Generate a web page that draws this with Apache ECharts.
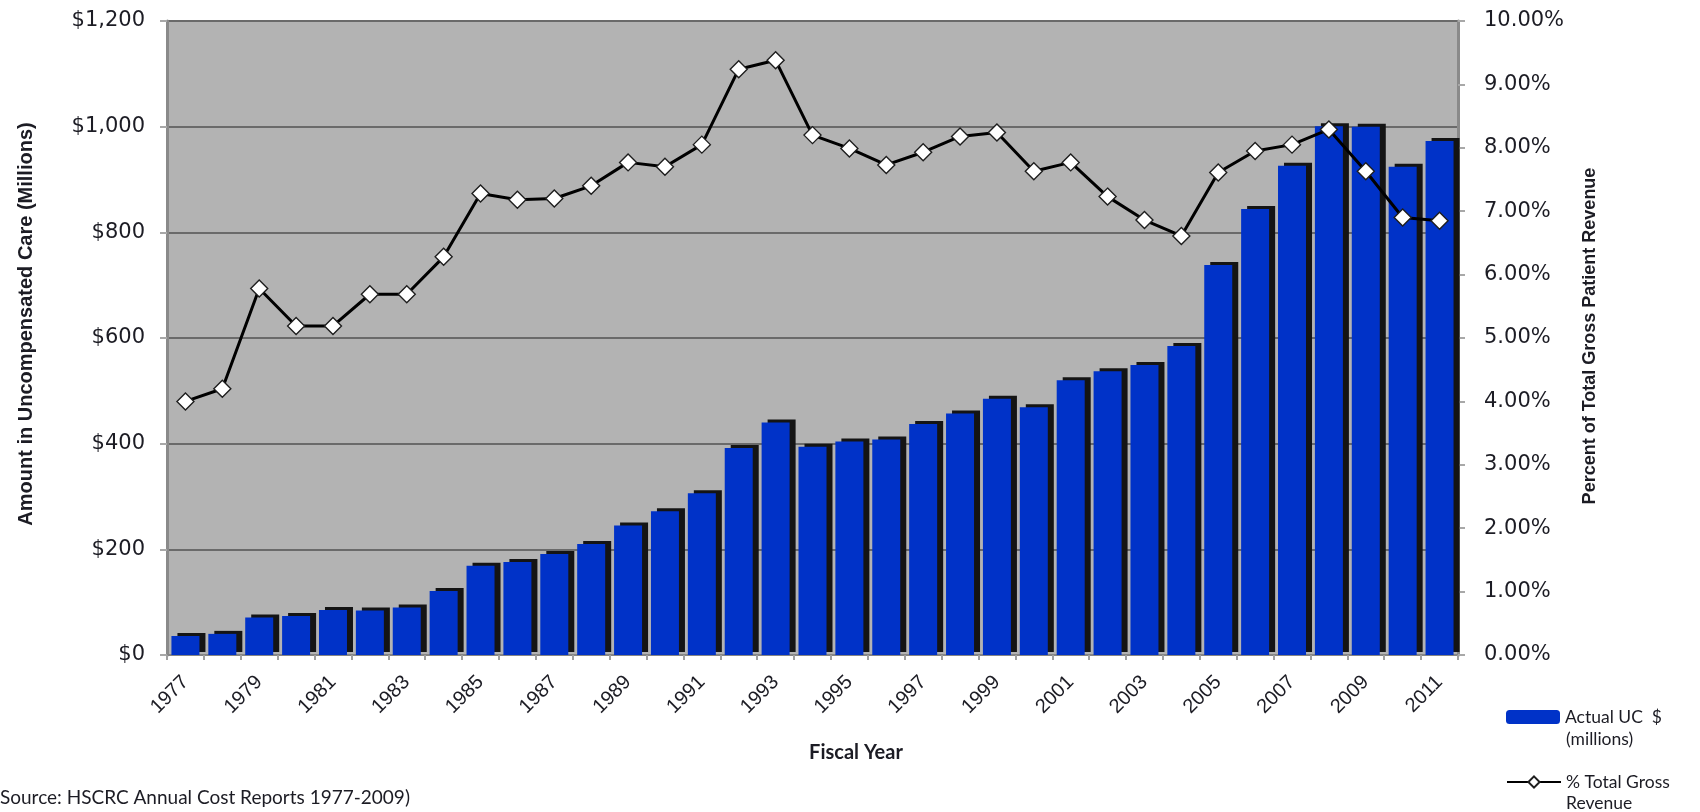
<!DOCTYPE html>
<html>
<head>
<meta charset="utf-8">
<title>Uncompensated Care</title>
<script src="https://cdn.jsdelivr.net/npm/echarts@6.0.0/dist/echarts.min.js"></script>
<style>
  html, body { margin: 0; padding: 0; background: #fff; }
  #chart { width: 1700px; height: 812px; }
</style>
</head>
<body>
<div id="chart"></div>
<script>
// Fiscal years 1977-2011
const years = [
  "1977", "1978", "1979", "1980", "1981", "1982", "1983", "1984", "1985", "1986",
  "1987", "1988", "1989", "1990", "1991", "1992", "1993", "1994", "1995", "1996",
  "1997", "1998", "1999", "2000", "2001", "2002", "2003", "2004", "2005", "2006",
  "2007", "2008", "2009", "2010", "2011"
];

// Actual UC $ (millions)
const ucMillions = [
  36, 40, 71, 74, 85, 84, 90, 121, 169, 176,
  191, 210, 245, 272, 306, 392, 440, 394, 404, 408,
  437, 457, 485, 469, 520, 537, 549, 585, 738, 844,
  926, 1001, 1000, 924, 973
];

// % of total gross patient revenue
const pctGross = [
  4.0, 4.2, 5.78, 5.19, 5.19, 5.69, 5.69, 6.28, 7.28, 7.18,
  7.2, 7.4, 7.77, 7.7, 8.05, 9.24, 9.38, 8.2, 7.99, 7.73,
  7.93, 8.18, 8.24, 7.63, 7.77, 7.23, 6.86, 6.61, 7.61, 7.95,
  8.05, 8.29, 7.63, 6.9, 6.85
];

// legend labels wrap onto a second line in the original
const barName = ["Actual UC  $", "(millions)"];
const lineName = ["% Total Gross", "Revenue"];

const textColor = "#1c1c24";
const narrow = "'Liberation Sans Narrow', 'Liberation Sans', Arial, sans-serif";
const legendFont = "Lato, 'Open Sans', sans-serif";

const chart = echarts.init(document.getElementById("chart"));

function legendAt(top, name) {
  return {
    left: 1506,
    top: top,
    padding: 0,
    itemWidth: 54,
    itemHeight: 14,
    data: [name],
    textStyle: { color: textColor, fontFamily: legendFont, fontSize: 17.5 },
  };
}

function secondLine(y, text) {
  return {
    type: "text",
    x: 1566,
    y: y,
    style: {
      text: text,
      fill: textColor,
      font: "17.5px " + legendFont,
      align: "left",
      verticalAlign: "middle",
    },
  };
}

chart.setOption({
  animation: false,
  backgroundColor: "#ffffff",
  grid: {
    left: 167,
    right: 242,
    top: 21,
    bottom: 157,
    show: true,
    backgroundColor: "#b3b3b3",
    borderWidth: 0,
  },
  legend: [legendAt(708, barName[0]), legendAt(773, lineName[0])],
  xAxis: {
    type: "category",
    data: years,
    axisLine: { lineStyle: { color: "#858585", width: 2 } },
    axisTick: {
      show: true,
      interval: 0,
      length: 5,
      lineStyle: { color: "#a0a0a0", width: 2 },
    },
    axisLabel: {
      interval: 1,
      rotate: 45,
      margin: 24,
      color: textColor,
      fontFamily: "'Liberation Sans', Arial, sans-serif",
      fontSize: 20,
    },
    splitLine: { show: false },
  },
  yAxis: [
    {
      type: "value",
      min: 0,
      max: 1200,
      interval: 200,
      axisLine: { show: true, lineStyle: { color: "#8a8a8a", width: 3 } },
      axisTick: { show: true, length: 7, lineStyle: { color: "#a8a8a8", width: 2 } },
      axisLabel: {
        margin: 22,
        color: textColor,
        fontFamily: "'DejaVu Sans', sans-serif",
        fontSize: 21,
        formatter: (v) => "$" + v.toLocaleString("en-US"),
      },
      splitLine: { lineStyle: { color: "#6a6a6a", width: 2 } },
    },
    {
      type: "value",
      min: 0,
      max: 10,
      interval: 1,
      position: "right",
      axisLine: { show: true, lineStyle: { color: "#8a8a8a", width: 3 } },
      axisTick: { show: true, length: 7, lineStyle: { color: "#a8a8a8", width: 2 } },
      axisLabel: {
        margin: 26,
        color: textColor,
        fontFamily: "'DejaVu Sans', sans-serif",
        fontSize: 21,
        formatter: (v) => v.toFixed(2) + "%",
      },
      splitLine: { show: false },
    },
  ],
  series: [
    {
      name: barName[0],
      type: "bar",
      data: ucMillions,
      barWidth: 28,
      itemStyle: {
        color: "#0032c8",
        shadowColor: "#141414",
        shadowBlur: 0,
        shadowOffsetX: 6,
        shadowOffsetY: -3,
      },
    },
    {
      name: lineName[0],
      type: "line",
      yAxisIndex: 1,
      data: pctGross,
      symbol: "diamond",
      symbolSize: [17, 17],
      lineStyle: { color: "#000000", width: 3 },
      itemStyle: { color: "#ffffff", borderColor: "#1e1e1e", borderWidth: 1.4 },
      z: 5,
    },
  ],
  graphic: [
    {
      type: "text",
      x: 26,
      y: 324,
      rotation: Math.PI / 2,
      style: {
        text: "Amount in Uncompensated Care (Millions)",
        fill: textColor,
        font: "bold 20px " + narrow,
        align: "center",
        verticalAlign: "middle",
      },
    },
    {
      type: "text",
      x: 1590,
      y: 336,
      rotation: Math.PI / 2,
      style: {
        text: "Percent of Total Gross Patient Revenue",
        fill: textColor,
        font: "bold 18px " + narrow,
        align: "center",
        verticalAlign: "middle",
      },
    },
    {
      type: "text",
      x: 856,
      y: 753,
      style: {
        text: "Fiscal Year",
        fill: textColor,
        font: "bold 20px " + legendFont,
        align: "center",
        verticalAlign: "middle",
      },
    },
    {
      type: "text",
      x: 0,
      y: 798,
      style: {
        text: "Source: HSCRC Annual Cost Reports 1977-2009)",
        fill: textColor,
        font: "19px " + legendFont,
        align: "left",
        verticalAlign: "middle",
      },
    },
    secondLine(739, barName[1]),
    secondLine(803, lineName[1]),
  ],
});
</script>
</body>
</html>
